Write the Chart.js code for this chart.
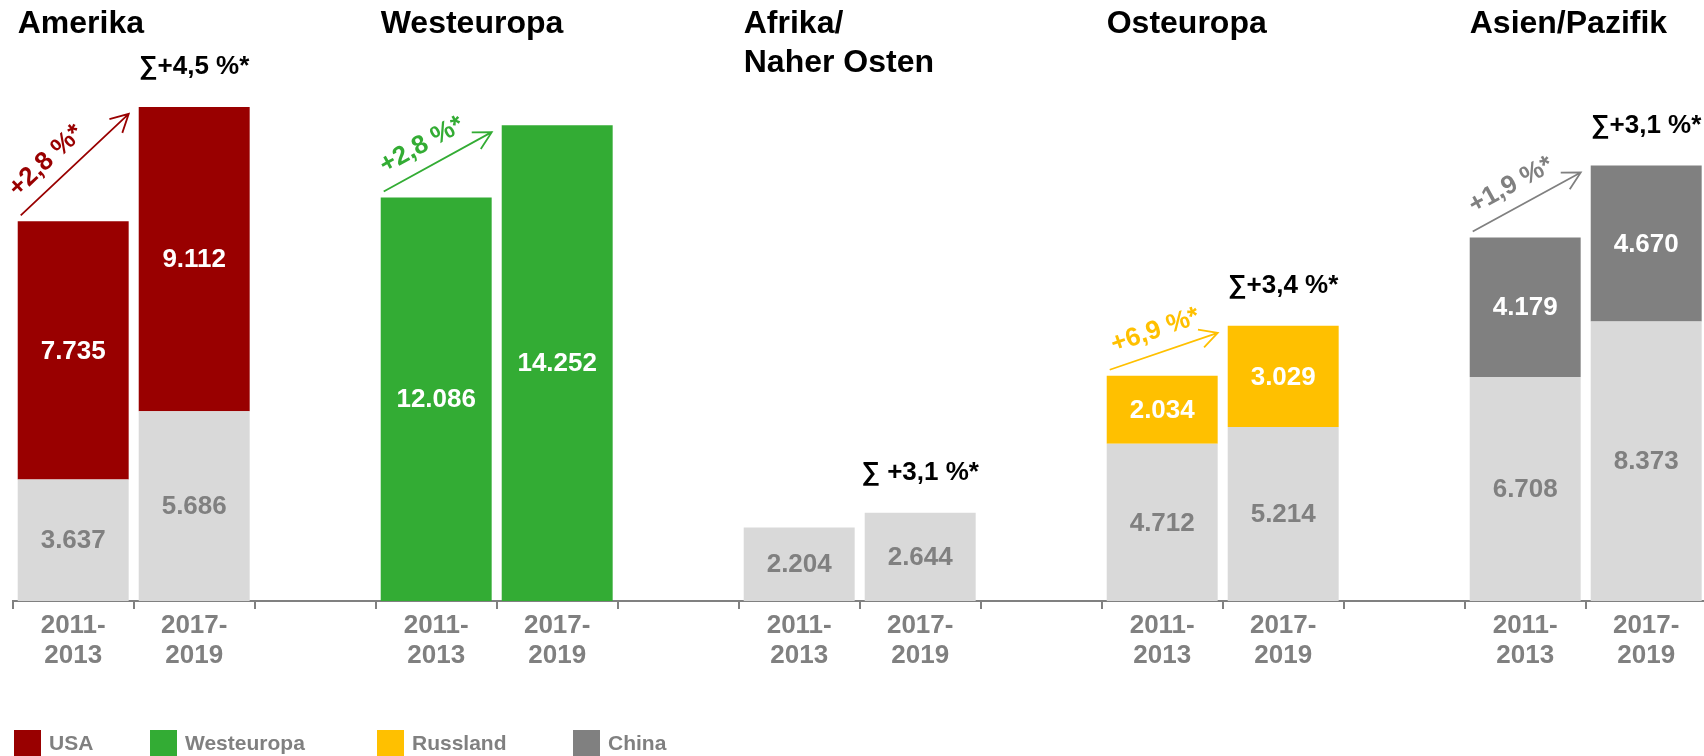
<!DOCTYPE html>
<html>
<head>
<meta charset="utf-8">
<script src="https://cdn.jsdelivr.net/npm/chart.js@4/dist/chart.umd.min.js"></script>
<style>
    body { margin: 0; overflow: hidden; background: #fff; }
    #wrap { position: relative; width: 1704px; height: 756px; overflow: hidden; }
    #legend .item { position: absolute; top: 730px; height: 30px; }
    #legend .box { position: absolute; left: 0; top: 0; width: 27px; height: 30px; }
    #legend .text { position: absolute; left: 35px; top: 1px; line-height: 26px; white-space: nowrap;
        font: bold 21px 'Liberation Sans', Arial, sans-serif; color: #808080; }
</style>
</head>
<body>
<div id="wrap">
    <canvas id="chart" width="1708" height="756"></canvas>
    <div id="legend"></div>
</div>
<script>
// regions (group titles) and the two periods shown per region
const regions = [['Amerika'], ['Westeuropa'], ['Afrika/', 'Naher Osten'], ['Osteuropa'], ['Asien/Pazifik']];
const periods = [['2011-', '2013'], ['2017-', '2019']];

// light grey part of each bar (rest of region), per region [2011-2013, 2017-2019]
const otherValues = [[3637, 5686], [null, null], [2204, 2644], [4712, 5214], [6708, 8373]];

// highlighted country per region
const focusNames = ['USA', 'Westeuropa', 'Russland', 'China'];
const focusRegion = [0, 1, 3, 4];
const focusValues = [[7735, 9112], [12086, 14252], [2034, 3029], [4179, 4670]];

const growthLabels = ['+2,8 %*', '+2,8 %*', null, '+6,9 %*', '+1,9 %*'];
const sumLabels = ['∑+4,5 %*', null, '∑ +3,1 %*', '∑+3,4 %*', '∑+3,1 %*'];

const focusColors = ['#990000', '#33AC34', '#FFC000', '#808080'];
const otherColor = '#D9D9D9';
const legendLefts = [14, 150, 377, 573];
const FONT = "'Liberation Sans', Arial, sans-serif";
const BAR_PCT = 0.917;

function slot(r, p) {
    return r * 3 + p;
}

function fmt(v) {
    return String(v).replace(/\B(?=(\d{3})+(?!\d))/g, '.');
}

function buildLabels() {
    const labels = [];
    regions.forEach(function (name, r) {
        labels.push(periods[0], periods[1]);
        if (r < regions.length - 1) labels.push('');
    });
    return labels;
}

function buildDatasets(n) {
    const rest = new Array(n).fill(null);
    otherValues.forEach(function (pair, r) {
        rest[slot(r, 0)] = pair[0];
        rest[slot(r, 1)] = pair[1];
    });
    const sets = [{
        label: 'Rest',
        data: rest,
        backgroundColor: otherColor,
        labelColor: '#808080'
    }];
    focusNames.forEach(function (name, k) {
        const data = new Array(n).fill(null);
        data[slot(focusRegion[k], 0)] = focusValues[k][0];
        data[slot(focusRegion[k], 1)] = focusValues[k][1];
        sets.push({
            label: name,
            data: data,
            backgroundColor: focusColors[k],
            labelColor: '#ffffff',
            legend: true
        });
    });
    sets.forEach(function (s) {
        s.barPercentage = BAR_PCT;
        s.categoryPercentage = 1;
        s.borderWidth = 0;
    });
    return sets;
}

const annotations = {
    id: 'annotations',
    afterDatasetsDraw(chart) {
        const ctx = chart.ctx;
        const xs = chart.scales.x;
        const ys = chart.scales.y;
        const slotW = xs.getPixelForValue(1) - xs.getPixelForValue(0);
        const barW = slotW * BAR_PCT;

        ctx.save();
        // values inside the segments
        ctx.font = 'bold 26px ' + FONT;
        ctx.textAlign = 'center';
        ctx.textBaseline = 'middle';
        chart.data.datasets.forEach(function (ds, di) {
            const meta = chart.getDatasetMeta(di);
            meta.data.forEach(function (bar, i) {
                const v = ds.data[i];
                if (v == null) return;
                ctx.fillStyle = ds.labelColor;
                ctx.fillText(fmt(v), bar.x, (bar.y + bar.base) / 2 + 1);
            });
        });

        function stackTop(i) {
            let sum = 0;
            chart.data.datasets.forEach(function (ds) {
                sum += ds.data[i] || 0;
            });
            return ys.getPixelForValue(sum);
        }

        regions.forEach(function (name, r) {
            const i0 = slot(r, 0);
            const i1 = slot(r, 1);
            const left0 = xs.getPixelForValue(i0) - barW / 2;
            const left1 = xs.getPixelForValue(i1) - barW / 2;
            const top0 = stackTop(i0);
            const top1 = stackTop(i1);

            // group title
            ctx.fillStyle = '#000';
            ctx.font = 'bold 32px ' + FONT;
            ctx.textAlign = 'left';
            ctx.textBaseline = 'alphabetic';
            name.forEach(function (line, k) {
                ctx.fillText(line, left0, 33 + k * 39);
            });

            // sum label above second bar
            if (sumLabels[r]) {
                ctx.font = 'bold 26px ' + FONT;
                ctx.textAlign = 'center';
                ctx.fillText(sumLabels[r], left1 + barW / 2, top1 - 33);
            }

            // growth arrow
            if (growthLabels[r]) {
                const color = focusColors[focusRegion.indexOf(r)];
                const sx = left0 + 3, sy = top0 - 6;
                const ex = left1 - 10, ey = top1 + 7;
                const a = Math.atan2(ey - sy, ex - sx);
                ctx.strokeStyle = color;
                ctx.lineWidth = 1.8;
                ctx.beginPath();
                ctx.moveTo(sx, sy);
                ctx.lineTo(ex, ey);
                ctx.moveTo(ex - 20 * Math.cos(a - 0.49), ey - 20 * Math.sin(a - 0.49));
                ctx.lineTo(ex, ey);
                ctx.lineTo(ex - 20 * Math.cos(a + 0.49), ey - 20 * Math.sin(a + 0.49));
                ctx.stroke();

                ctx.save();
                ctx.translate(sx, sy);
                ctx.rotate(a);
                ctx.fillStyle = color;
                ctx.font = 'bold 26px ' + FONT;
                ctx.textAlign = 'left';
                ctx.textBaseline = 'alphabetic';
                ctx.fillText(growthLabels[r], 10, -15);
                ctx.restore();
            }
        });
        ctx.restore();
    }
};

function initChart() {
    const labels = buildLabels();
    const chart = new Chart(document.getElementById('chart'), {
        type: 'bar',
        data: {
            labels: labels,
            datasets: buildDatasets(labels.length)
        },
        options: {
            responsive: false,
            animation: false,
            layout: {
                padding: { left: 12.7, right: 1.3, top: 0, bottom: 0 }
            },
            plugins: {
                legend: { display: false },
                tooltip: { enabled: false }
            },
            scales: {
                x: {
                    stacked: true,
                    afterFit: function (scale) {
                        scale.height = 155;
                    },
                    grid: {
                        display: true,
                        drawOnChartArea: false,
                        drawTicks: true,
                        tickLength: 8,
                        offset: true,
                        color: '#808080',
                        lineWidth: 2
                    },
                    border: { display: true, color: '#808080', width: 2 },
                    ticks: {
                        color: '#808080',
                        autoSkip: false,
                        maxRotation: 0,
                        padding: 2,
                        font: { family: FONT, size: 26, weight: 'bold', lineHeight: 1.15 }
                    }
                },
                y: {
                    stacked: true,
                    display: false,
                    min: 0,
                    max: 18000
                }
            }
        },
        plugins: [annotations]
    });
    buildLegend(chart);
}

function buildLegend(chart) {
    const el = document.getElementById('legend');
    let k = 0;
    chart.data.datasets.forEach(function (ds) {
        if (!ds.legend) return;
        const item = document.createElement('div');
        item.className = 'item';
        item.style.left = legendLefts[k] + 'px';
        const box = document.createElement('div');
        box.className = 'box';
        box.style.background = ds.backgroundColor;
        const text = document.createElement('div');
        text.className = 'text';
        text.textContent = ds.label;
        item.appendChild(box);
        item.appendChild(text);
        el.appendChild(item);
        k++;
    });
}

initChart();
</script>
</body>
</html>
